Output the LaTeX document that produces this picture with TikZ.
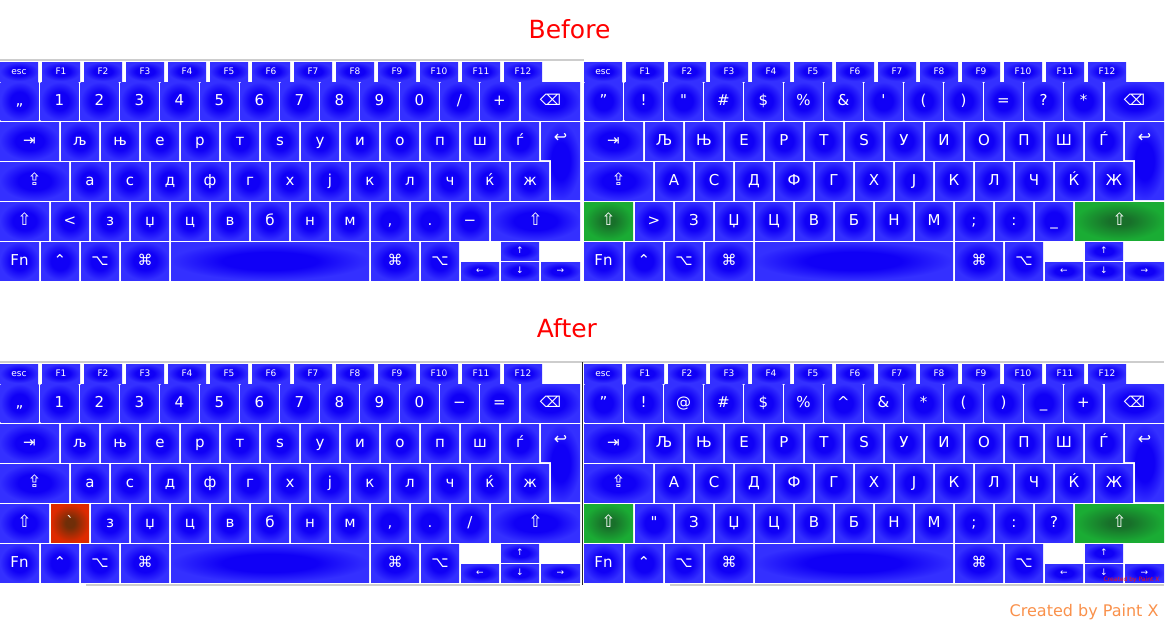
\documentclass[tikz,border=0pt]{standalone}
\usepackage{fontspec}
\newfontfamily\keyfont{DejaVu Sans}
\definecolor{keycore}{RGB}{16,0,246}
\definecolor{keyedge}{RGB}{52,48,255}
\definecolor{greencore}{RGB}{24,112,42}
\definecolor{greenedge}{RGB}{26,172,52}
\definecolor{redcore}{RGB}{112,46,8}
\definecolor{rededge}{RGB}{222,42,0}
\definecolor{rulegray}{RGB}{205,205,205}
\definecolor{titlered}{RGB}{255,0,0}
\definecolor{signorange}{RGB}{250,145,75}
\pgfdeclareradialshading{keyglow}{\pgfpoint{0bp}{0bp}}
  {color(0bp)=(keycore); color(12bp)=(keycore); color(25bp)=(keyedge); color(50bp)=(keyedge)}
\pgfdeclareradialshading{greenglow}{\pgfpoint{0bp}{0bp}}
  {color(0bp)=(greencore); color(6bp)=(greencore); color(25bp)=(greenedge); color(50bp)=(greenedge)}
\pgfdeclareradialshading{redglow}{\pgfpoint{0bp}{0bp}}
  {color(0bp)=(redcore); color(6bp)=(redcore); color(25bp)=(rededge); color(50bp)=(rededge)}
\tikzset{
  keyface/.style={shade, shading=keyglow, text=white, anchor=north west,
                  inner sep=0pt, outer sep=0pt, text height=11pt, text depth=3pt,
                  minimum width=38pt, minimum height=38pt,
                  font=\keyfont\fontsize{15}{15}\selectfont},
  symkey/.style={keyface, font=\keyfont\fontsize{17}{17}\selectfont},
  fkey/.style={keyface, minimum height=19pt, text height=6.5pt, text depth=0pt,
               font=\keyfont\fontsize{9}{9}\selectfont},
  arrowkey/.style={keyface, minimum height=18pt, text height=6pt, text depth=1pt,
                   font=\keyfont\fontsize{9}{9}\selectfont},
  keylabel/.style={text=white, inner sep=0pt, font=\keyfont\fontsize{16}{16}\selectfont},
  greenkey/.style={shading=greenglow},
  redkey/.style={shading=redglow},
  lshkey/.style={}, rshkey/.style={}, sidekey/.style={},
  rule/.style={draw=rulegray, line width=1.2pt},
  title/.style={text=titlered, font=\keyfont\fontsize{25}{25}\selectfont, anchor=base}
}
% #1 name prefix, #2 number row, #3 upper letter row, #4 home row,
% #5 key beside left shift, #6 rest of the lower letter row
\newcommand\keyboard[6]{%
  \node[fkey] (#1-esc) at (0,0) {esc};
  \foreach \i in {1,...,12}
    \node[fkey] (#1-f\i) at (42*\i,0) {F\i};
  % number row
  \foreach \lab [count=\i from 0] in {#2}
    \node[keyface] (#1-n\i) at (40*\i+0.5,20) {\lab};
  \node[keyface, minimum width=59pt] (#1-bksp) at (521,20) {⌫};
  % upper letters
  \node[keyface, minimum width=59pt] (#1-tab) at (0,60) {⇥};
  \foreach \lab [count=\i from 0] in {#3}
    \node[keyface] (#1-q\i) at (61+40*\i,60) {\lab};
  \shade[shading=keyglow]
    (541,60) -- (580,60) -- (580,138) -- (551,138) -- (551,98) -- (541,98) -- cycle;
  \node[keylabel] (#1-ret) at (560.5,76) {↩};
  % home row
  \node[symkey, minimum width=69pt] (#1-caps) at (0,100) {⇪};
  \foreach \lab [count=\i from 0] in {#4}
    \node[keyface] (#1-a\i) at (71+40*\i,100) {\lab};
  % lower letters
  \node[symkey, minimum width=49pt, lshkey] (#1-lsh) at (0,140) {⇧};
  \node[keyface, sidekey] (#1-side) at (51,140) {#5};
  \foreach \lab [count=\i from 0] in {#6}
    \node[keyface] (#1-z\i) at (91+40*\i,140) {\lab};
  \node[symkey, minimum width=89pt, rshkey] (#1-rsh) at (491,140) {⇧};
  % bottom row
  \node[keyface, minimum width=39pt] (#1-fn) at (0,180) {Fn};
  \node[keyface] (#1-ctrl) at (41,180) {⌃};
  \node[keyface] (#1-lopt) at (81,180) {⌥};
  \node[keyface, minimum width=48pt] (#1-lcmd) at (121,180) {⌘};
  \node[keyface, minimum width=198pt] (#1-space) at (171,180) {};
  \node[keyface, minimum width=48pt] (#1-rcmd) at (371,180) {⌘};
  \node[keyface] (#1-ropt) at (421,180) {⌥};
  \node[arrowkey] (#1-up) at (501,180) {↑};
  \node[arrowkey] (#1-left) at (461,200) {←};
  \node[arrowkey] (#1-down) at (501,200) {↓};
  \node[arrowkey, minimum width=39pt] (#1-right) at (541,200) {→};
}

\begin{document}
\begin{tikzpicture}[x=1pt, y=-1pt]
  \useasboundingbox[fill=white] (0,0) rectangle (1166,626);

  \node[title] (before) at (569.5,38) {Before};
  \node[title] (after) at (567,337) {After};

  \draw[rule] (0,60) -- (584,60);
  \draw[rule] (0,362) -- (1164,362);
  \draw[rule] (86,585) -- (580,585);
  \draw[rule] (670,585) -- (1164,585);
  \draw[black!85, line width=1pt] (582.5,362) -- (582.5,585);

  % before, lower case
  \begin{scope}[shift={(0,62)}]
    \keyboard{bl}{„,1,2,3,4,5,6,7,8,9,0,/,+}
      {љ,њ,е,р,т,ѕ,у,и,о,п,ш,ѓ}{а,с,д,ф,г,х,ј,к,л,ч,ќ,ж}
      {<}{з,џ,ц,в,б,н,м,{,},.,−}
  \end{scope}
  % before, upper case
  \begin{scope}[shift={(584,62)}, lshkey/.style=greenkey, rshkey/.style=greenkey]
    \keyboard{bu}{”,!,",\#,\$,\%,\&,',{(},{)},=,?,*}
      {Љ,Њ,Е,Р,Т,Ѕ,У,И,О,П,Ш,Ѓ}{А,С,Д,Ф,Г,Х,Ј,К,Л,Ч,Ќ,Ж}
      {>}{З,Џ,Ц,В,Б,Н,М,;,:,\_}
  \end{scope}
  % after, lower case
  \begin{scope}[shift={(0,364)}, sidekey/.style=redkey]
    \keyboard{al}{„,1,2,3,4,5,6,7,8,9,0,−,=}
      {љ,њ,е,р,т,ѕ,у,и,о,п,ш,ѓ}{а,с,д,ф,г,х,ј,к,л,ч,ќ,ж}
      {`}{з,џ,ц,в,б,н,м,{,},.,/}
  \end{scope}
  % after, upper case
  \begin{scope}[shift={(584,364)}, lshkey/.style=greenkey, rshkey/.style=greenkey]
    \keyboard{au}{”,!,@,\#,\$,\%,\textasciicircum,\&,*,{(},{)},\_,+}
      {Љ,Њ,Е,Р,Т,Ѕ,У,И,О,П,Ш,Ѓ}{А,С,Д,Ф,Г,Х,Ј,К,Л,Ч,Ќ,Ж}
      {"}{З,Џ,Ц,В,Б,Н,М,;,:,?}
  \end{scope}

  \node[text=red!85!orange, font=\keyfont\fontsize{6}{6}\selectfont, anchor=base east]
    (tinysign) at (1163,581) {Created by Paint X};
  \node[text=signorange, font=\keyfont\fontsize{16}{16}\selectfont, anchor=base east]
    (sign) at (1162,616) {Created by Paint X};
\end{tikzpicture}
\end{document}
